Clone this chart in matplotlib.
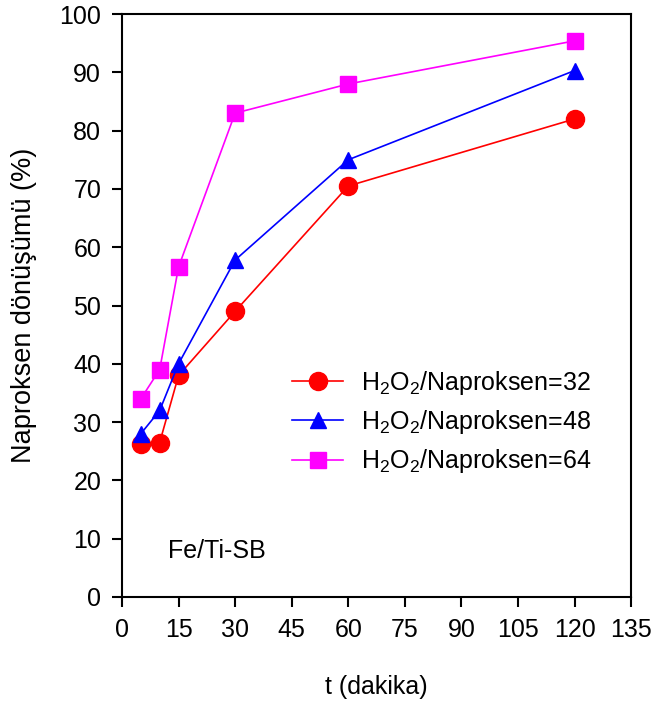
import numpy as np
import matplotlib
matplotlib.use("Agg")
import matplotlib.pyplot as plt

plt.rcParams["font.family"] = ["Liberation Sans", "DejaVu Sans"]
plt.rcParams["font.size"] = 18
plt.rcParams["mathtext.fontset"] = "custom"
plt.rcParams["mathtext.rm"] = "Liberation Sans"
plt.rcParams["mathtext.it"] = "Liberation Sans:italic"
plt.rcParams["mathtext.bf"] = "Liberation Sans:bold"

t = [5, 10, 15, 30, 60, 120]
ratio_32 = [26.2, 26.5, 38.0, 49.0, 70.5, 82.0]
ratio_48 = [28.0, 32.0, 40.0, 57.8, 75.0, 90.3]
ratio_64 = [34.0, 39.0, 56.6, 83.0, 88.0, 95.4]

labels = [r"H$_\mathregular{2}$O$_\mathregular{2}$/Naproksen=32",
          r"H$_\mathregular{2}$O$_\mathregular{2}$/Naproksen=48",
          r"H$_\mathregular{2}$O$_\mathregular{2}$/Naproksen=64"]

fig = plt.figure(figsize=(6.54, 7.02), dpi=100)
ax = fig.add_axes([0.1865, 0.1496, 0.7785, 0.8304])

ax.plot(t, ratio_32, color="red", marker="o", markersize=13, lw=1.2, label=labels[0])
ax.plot(t, ratio_48, color="blue", marker="^", markersize=12, lw=1.2, label=labels[1])
ax.plot(t, ratio_64, color="magenta", marker="s", markersize=11, lw=1.2, label=labels[2])

ax.set_xlim(0, 135)
ax.set_ylim(0, 100)
ax.set_xticks(np.arange(0, 136, 15))
ax.set_yticks(np.arange(0, 101, 10))
ax.tick_params(direction="out", length=7, width=1.5, labelsize=18, pad=8)
for s in ax.spines.values():
    s.set_linewidth(1.5)

ax.set_xlabel("t (dakika)", fontsize=18, labelpad=24)
ax.set_ylabel("Naproksen dönüşümü (%)", fontsize=19.5, labelpad=16)

ax.text(12.2, 7.9, "Fe/Ti-SB", fontsize=18, va="center", ha="left")

ax.legend(loc="center left", bbox_to_anchor=(0.29, 0.30), frameon=False,
          fontsize=18, handlelength=2.05, labelspacing=0.45, handletextpad=0.7)

fig.savefig("out.png", dpi=100)
